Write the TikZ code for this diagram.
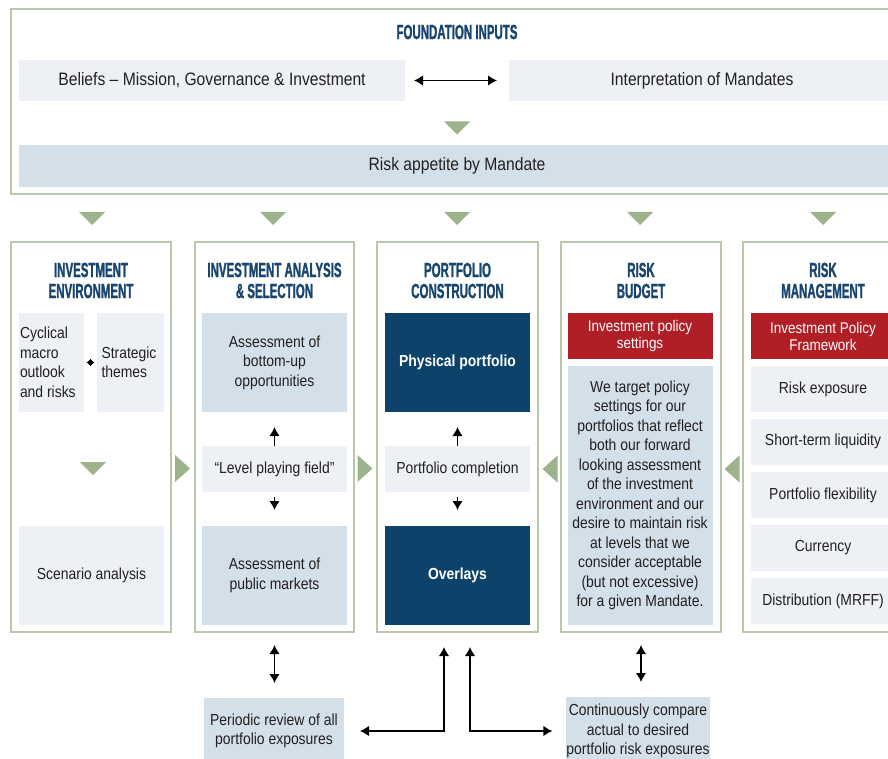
\documentclass[tikz,border=0pt]{standalone}
\usepackage{fontspec}
\setmainfont{Liberation Sans}[FakeStretch=0.87]
\newfontfamily\headfont{Liberation Sans}[FakeStretch=0.56,FakeBold=1.2]
\usetikzlibrary{arrows.meta,calc}
\definecolor{frame}{HTML}{B8C6AA}
\definecolor{trigreen}{HTML}{9DB38C}
\definecolor{light}{HTML}{EDF1F5}
\definecolor{mid}{HTML}{D4E0E9}
\definecolor{navy}{HTML}{0D426B}
\definecolor{redbox}{HTML}{B01E26}
\definecolor{head}{HTML}{184670}
\definecolor{txt}{HTML}{231F20}
\newcommand\mydtri[2]{\fill[trigreen] (#1-13,#2-6.5) -- (#1+13,#2-6.5) -- (#1,#2+6.5) -- cycle;}
\newcommand\myrtri[2]{\fill[trigreen] (#1-7.5,#2-13.5) -- (#1+7.5,#2) -- (#1-7.5,#2+13.5) -- cycle;}
\newcommand\myltri[2]{\fill[trigreen] (#1+7.5,#2-13.5) -- (#1-7.5,#2) -- (#1+7.5,#2+13.5) -- cycle;}
\begin{document}
\begin{tikzpicture}[x=1pt,y=-1pt,
 every node/.style={inner sep=0pt,outer sep=0pt,text=txt},
 frm/.style={draw=frame,line width=2.5pt,fill=white},
 lbox/.style={fill=light,align=center,font=\fontsize{16}{19.5}\selectfont},
 mbox/.style={fill=mid,align=center,font=\fontsize{16}{19.5}\selectfont},
 nbox/.style={fill=navy,text=white,align=center,font=\fontsize{16}{19.5}\selectfont\bfseries},
 rbox/.style={fill=redbox,text=white,align=center,font=\fontsize{15.5}{17}\selectfont},
 hd/.style={text=head,align=center,font=\headfont\bfseries\fontsize{20.5}{21}\selectfont},
 big/.style={font=\fontsize{18}{21}\selectfont},
 arr/.style={line width=1.5pt,-{Latex[length=9pt,width=10.5pt]}},
 dbl/.style={line width=1.5pt,{Latex[length=9pt,width=10.5pt]}-{Latex[length=9pt,width=10.5pt]}},
 sdbl/.style={line width=1pt,{Latex[length=4.5pt,width=8pt]}-{Latex[length=4.5pt,width=8pt]}}]
\useasboundingbox (0,0) rectangle (888,759);
\fill[white] (0,0) rectangle (888,759);

% Foundation inputs
\node[frm,minimum width=892,minimum height=185] (found) at (457,101.5) {};
\node[hd] (ftitle) at (457,32) {FOUNDATION INPUTS};
\node[lbox,big,minimum width=386,minimum height=41] (beliefs) at (212,80.5) {Beliefs – Mission, Governance \& Investment};
\node[lbox,big,minimum width=386,minimum height=41] (interp) at (702,80.5) {Interpretation of Mandates};
\draw[dbl] ([xshift=9pt]beliefs.east) -- ([xshift=-12pt]interp.west);
\mydtri{457}{128}
\node[mbox,big,minimum width=876,minimum height=42] (risk) at (457,166) {Risk appetite by Mandate};

% triangles row
\mydtri{92}{218.5}
\mydtri{273}{218.5}
\mydtri{457}{218.5}
\mydtri{640}{218.5}
\mydtri{823}{218.5}

% column frames
\node[frm,minimum width=160,minimum height=390] (c1) at (91,437) {};
\node[frm,minimum width=159,minimum height=390] (c2) at (274.5,437) {};
\node[frm,minimum width=161,minimum height=390] (c3) at (457.5,437) {};
\node[frm,minimum width=160,minimum height=390] (c4) at (641,437) {};
\node[frm,minimum width=160,minimum height=390] (c5) at (823,437) {};

\node[hd] (h1) at (91,280.5) {INVESTMENT\\ENVIRONMENT};
\node[hd] (h2) at (274.5,280.5) {INVESTMENT ANALYSIS\\\& SELECTION};
\node[hd] (h3) at (457.5,280.5) {PORTFOLIO\\CONSTRUCTION};
\node[hd] (h4) at (641,280.5) {RISK\\BUDGET};
\node[hd] (h5) at (823,280.5) {RISK\\MANAGEMENT};

% column 1
\node[lbox,minimum width=65,minimum height=99,text width=63,align=flush left] (cyc) at (51.5,362.5) {Cyclical\\macro\\outlook\\and risks};
\node[lbox,minimum width=67,minimum height=99,text width=58,align=flush left] (strat) at (130.5,362.5) {Strategic\\themes};
\draw[sdbl] ([xshift=2.5pt]cyc.east) -- ([xshift=-2.5pt]strat.west);
\mydtri{93}{468.5}
\node[lbox,minimum width=145,minimum height=99] (scen) at (91.5,575.5) {Scenario analysis};

% column 2
\node[mbox,minimum width=145,minimum height=99] (bu) at (274.5,362.5) {Assessment of\\bottom-up\\opportunities};
\node[lbox,minimum width=145,minimum height=46] (lpf) at (274.5,469) {“Level playing field”};
\node[mbox,minimum width=145,minimum height=99] (pub) at (274.5,575.5) {Assessment of\\public markets};
\draw[arr] (lpf.north) -- ([yshift=-15pt]bu.south);
\draw[arr] ([yshift=-5pt]lpf.south) -- ([yshift=16pt]pub.north);

% column 3
\node[nbox,minimum width=145,minimum height=99] (phys) at (457.5,362.5) {Physical portfolio};
\node[lbox,minimum width=145,minimum height=46] (comp) at (457.5,469) {Portfolio completion};
\node[nbox,minimum width=145,minimum height=99] (ovl) at (457.5,575.5) {Overlays};
\draw[arr] (comp.north) -- ([yshift=-15pt]phys.south);
\draw[arr] ([yshift=-5pt]comp.south) -- ([yshift=16pt]ovl.north);

% column 4
\node[rbox,minimum width=145,minimum height=46] (ips) at (640,336) {Investment policy\\settings};
\node[mbox,minimum width=145,minimum height=259] (tgt) at (640,495.5) {We target policy\\settings for our\\portfolios that reflect\\both our forward\\looking assessment\\of the investment\\environment and our\\desire to maintain risk\\at levels that we\\consider acceptable\\(but not excessive)\\for a given Mandate.};

% column 5
\node[rbox,minimum width=144,minimum height=46] (ipf) at (823,336) {Investment Policy\\Framework};
\node[lbox,minimum width=144,minimum height=46] (r1) at (823,389) {Risk exposure};
\node[lbox,minimum width=144,minimum height=46] (r2) at (823,441.5) {Short-term liquidity};
\node[lbox,minimum width=144,minimum height=46] (r3) at (823,495) {Portfolio flexibility};
\node[lbox,minimum width=144,minimum height=46] (r4) at (823,548) {Currency};
\node[lbox,minimum width=144,minimum height=46] (r5) at (823,601) {Distribution (MRFF)};

% side triangles
\myrtri{182.5}{468.5}
\myrtri{365}{468.5}
\myltri{550}{469}
\myltri{732}{469}

% bottom
\node[mbox,minimum width=140,minimum height=66] (per) at (274,731) {Periodic review of all\\portfolio exposures};
\node[mbox,minimum width=142,minimum height=68] (cont) at (638,731) {Continuously compare\\actual to desired\\portfolio risk exposures};
\draw[dbl] ([yshift=-13pt]c2.south) -- ([yshift=15pt]c2.south |- per.north);
\draw[dbl] ([yshift=-13pt]c4.south) -- ([yshift=15pt]c4.south |- cont.north);
\draw[dbl] ([xshift=16pt]per.east) -| ([xshift=-13.5pt,yshift=-15pt]c3.south);
\draw[dbl] ([xshift=12.5pt,yshift=-15pt]c3.south) |- ([xshift=-14pt]cont.west);
\end{tikzpicture}
\end{document}
